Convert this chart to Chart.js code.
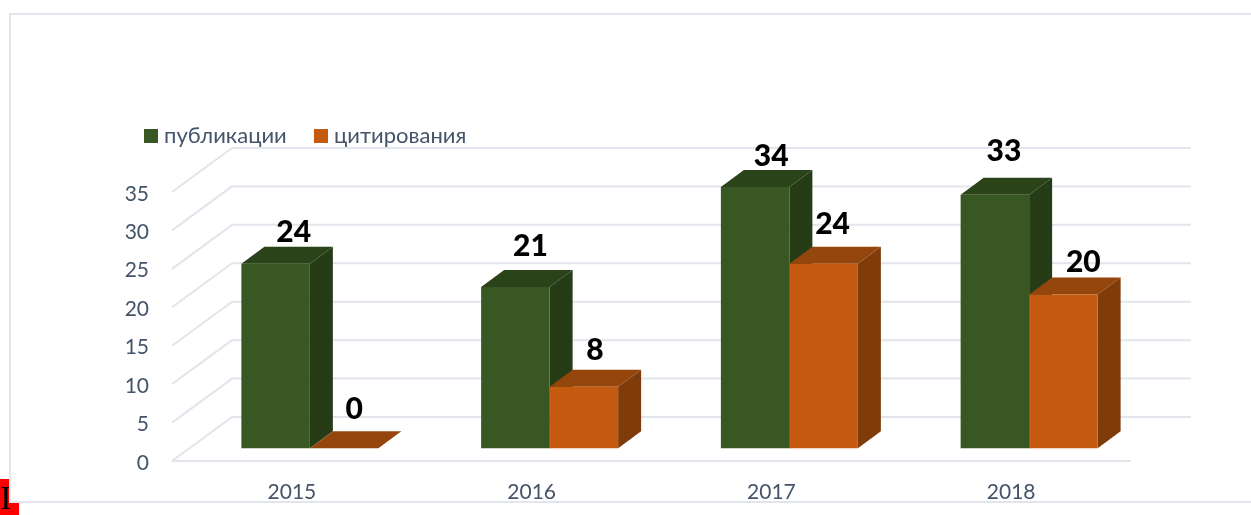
<!DOCTYPE html>
<html>
<head>
<meta charset="utf-8">
<style>
  html, body { margin: 0; padding: 0; background: #fff; }
  #wrap { position: relative; width: 1251px; height: 515px; overflow: hidden; }
  #chart { position: absolute; left: 0; top: 0; }
  #mark { position: absolute; left: 0; top: 479px; width: 19px; height: 36px; background: #f00; color: #000;
    font: 33px/38px "Liberation Serif", serif; }
</style>
<script src="https://cdn.jsdelivr.net/npm/chart.js@4/dist/chart.umd.min.js"></script>
</head>
<body>
<div id="wrap">
  <div id="mark">I</div>
  <canvas id="chart" width="1251" height="515"></canvas>
</div>
<script>
const years = ["2015", "2016", "2017", "2018"];
const publications = [24, 21, 34, 33];
const citations = [0, 8, 24, 20];
const seriesNames = ["публикации", "цитирования"];

// 3d look: the floor sits lower than the bar base, walls go back by this much
const wallDx = 60, wallDy = -44;
const barDx = 23, barDy = -17;
const floorShift = 12.7, labelShift = -18;

// hand placed data labels, [dx, dy] from the front face of each bar
const labelNudge = [
  [[18, -33], [10, -40]],
  [[15, -42], [11, -37]],
  [[16, -32], [9, -41]],
  [[9, -44], [20, -33]],
];

const gridColor = "#e2e5ec";
const textColor = "#44546a";
const faces = [
  { front: "#385723", top: "#2b4319", side: "#263c17" },
  { front: "#c55a11", top: "#95460c", side: "#7f3b0a" },
];

const line = (ctx, x1, y1, x2, y2) => {
  ctx.beginPath();
  ctx.moveTo(x1, y1);
  ctx.lineTo(x2, y2);
  ctx.stroke();
};

const poly = (ctx, pts, color) => {
  ctx.fillStyle = color;
  ctx.beginPath();
  pts.forEach((p, i) => (i ? ctx.lineTo(p[0], p[1]) : ctx.moveTo(p[0], p[1])));
  ctx.closePath();
  ctx.fill();
};

const walls = {
  id: "walls",
  beforeDraw(chart) {
    const { ctx } = chart;
    ctx.save();
    // white panel covers the red mark behind it
    ctx.fillStyle = "#fff";
    ctx.fillRect(10, 14, 1241, 488);
    ctx.strokeStyle = gridColor;
    ctx.lineWidth = 2;
    ctx.beginPath();
    ctx.moveTo(1251, 14);
    ctx.lineTo(10, 14);
    ctx.lineTo(10, 502);
    ctx.lineTo(1251, 502);
    ctx.stroke();
    ctx.restore();
  },
  beforeDatasetsDraw(chart) {
    const { ctx, scales } = chart;
    const left = scales.x.left + labelShift;
    const right = scales.x.right + labelShift;
    ctx.save();
    ctx.strokeStyle = gridColor;
    ctx.lineWidth = 2;
    // gridlines come from the y scale ticks
    scales.y.ticks.forEach((t) => {
      const y = scales.y.getPixelForValue(t.value) + floorShift;
      line(ctx, left, y, left + wallDx, y + wallDy);
      line(ctx, left + wallDx, y + wallDy, right + wallDx, y + wallDy);
    });
    const y0 = scales.y.getPixelForValue(0) + floorShift;
    line(ctx, left, y0, right, y0);
    // tops and sides of the bars, fronts are drawn by chart.js over them
    chart.data.datasets.forEach((ds, d) => {
      const f = faces[d];
      chart.getDatasetMeta(d).data.forEach((bar) => {
        const l = bar.x - bar.width / 2;
        const r = bar.x + bar.width / 2;
        poly(ctx, [[r, bar.y], [r + barDx, bar.y + barDy], [r + barDx, bar.base + barDy], [r, bar.base]], f.side);
        poly(ctx, [[l, bar.y], [l + barDx, bar.y + barDy], [r + barDx, bar.y + barDy], [r, bar.y]], f.top);
      });
    });
    ctx.restore();
  },
  afterDatasetsDraw(chart) {
    const { ctx } = chart;
    ctx.save();
    ctx.font = "900 30px Lato";
    ctx.fillStyle = "#000";
    ctx.textAlign = "center";
    ctx.textBaseline = "middle";
    chart.data.datasets.forEach((ds, d) => {
      chart.getDatasetMeta(d).data.forEach((bar, i) => {
        const n = labelNudge[i][d];
        ctx.fillText(ds.data[i], bar.x + n[0], bar.y + n[1] + 1);
      });
    });
    // legend, the built in one leaves too wide a gap after the swatch
    ctx.font = "22px Lato";
    ctx.textAlign = "left";
    [144, 314].forEach((x, i) => {
      ctx.fillStyle = faces[i].front;
      ctx.fillRect(x, 129, 14, 14);
      ctx.fillStyle = textColor;
      ctx.fillText(seriesNames[i], x + 20, 136);
    });
    ctx.restore();
  },
};

new Chart(document.querySelector("#chart"), {
  type: "bar",
  plugins: [walls],
  data: {
    labels: years,
    datasets: [
      { label: seriesNames[0], data: publications, backgroundColor: faces[0].front },
      { label: seriesNames[1], data: citations, backgroundColor: faces[1].front },
    ],
  },
  options: {
    responsive: false,
    animation: false,
    clip: false,
    barPercentage: 1,
    categoryPercentage: 0.5714,
    layout: { padding: { top: 179.3, right: 102, left: 0, bottom: 0 } },
    plugins: {
      tooltip: { enabled: false },
      legend: { display: false },
    },
    scales: {
      x: {
        grid: { display: false },
        border: { display: false },
        ticks: { color: textColor, font: { family: "Lato", size: 21 }, labelOffset: labelShift, padding: 23 },
        afterFit: (s) => { s.height = 66.7; },
      },
      y: {
        min: 0,
        max: 35,
        grid: { display: false },
        border: { display: false },
        ticks: { stepSize: 5, color: textColor, font: { family: "Lato", size: 21 }, labelOffset: 14.5, padding: 33 },
        afterFit: (s) => { s.width = 190; },
      },
    },
  },
});
</script>
</body>
</html>
